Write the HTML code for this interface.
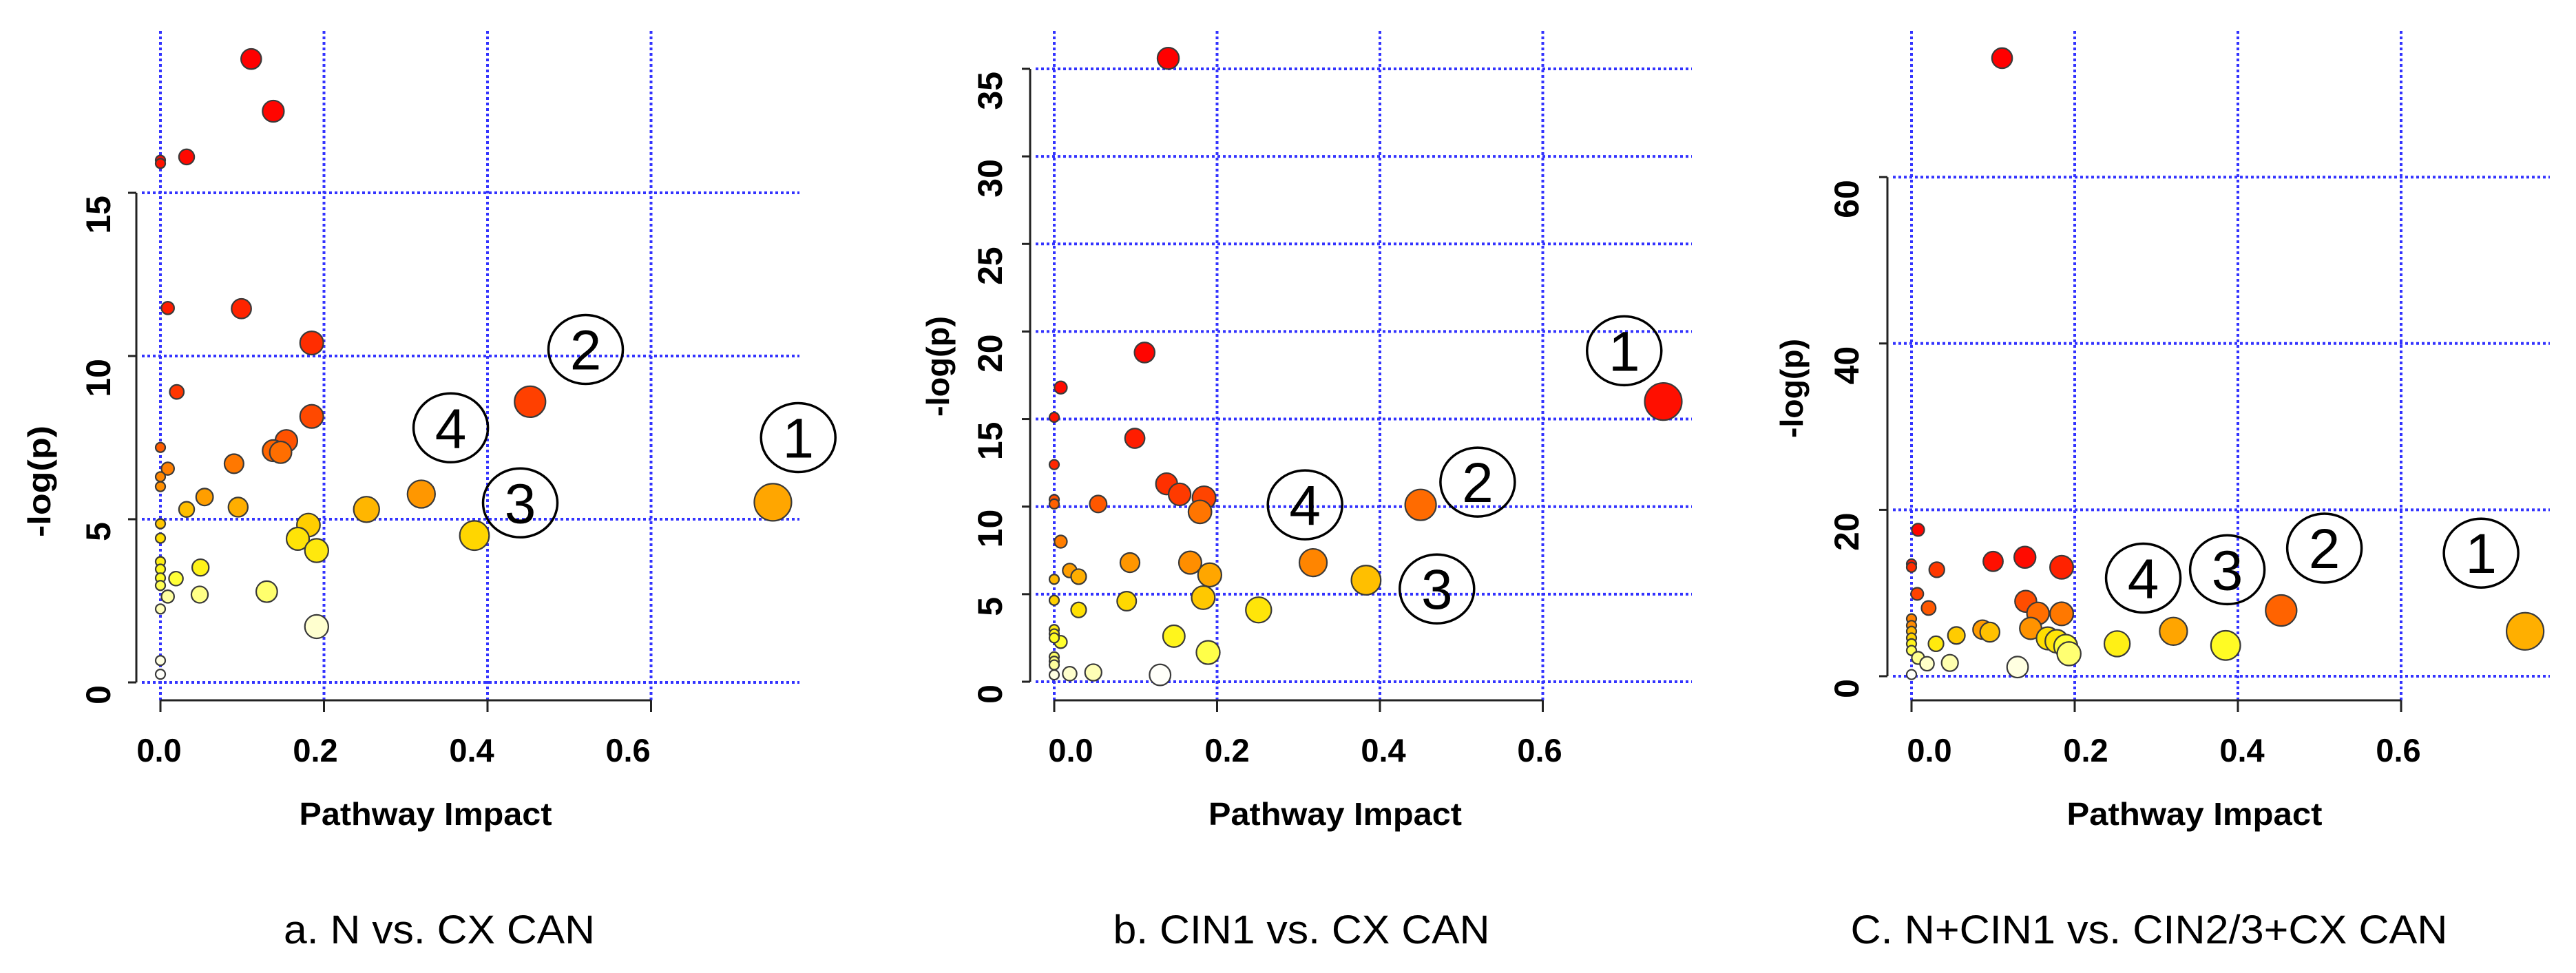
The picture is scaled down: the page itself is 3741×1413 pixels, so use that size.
<!DOCTYPE html>
<html><head><meta charset="utf-8"><style>
html,body{margin:0;padding:0;background:#fff;}
svg{display:block;}
text{font-family:"Liberation Sans",Arial,sans-serif;}
</style></head><body>
<svg id="fig" width="3741" height="1413" viewBox="0 0 3741 1413" xmlns="http://www.w3.org/2000/svg"></svg>
<script>
// ---------- data ----------
const xTicks = [0, 0.2, 0.4, 0.6];
const xTickLabels = ["0.0", "0.2", "0.4", "0.6"];

const aYTicks = [0, 5, 10, 15];
const aImpact = [0.111,0.138,0.032,0,0,0.009,0.099,0.185,0.020,0.452,0.185,0,0.154,0.138,0.147,0.090,0.009,0,0,0.054,0.319,0.749,0.032,0.095,0.252,0.181,0,0,0.384,0.168,0.191,0,0,0,0,0.049,0.019,0.009,0.048,0.130,0,0.191,0,0];
const aLogP   = [19.1,17.5,16.1,16.0,15.9,11.47,11.45,10.4,8.9,8.6,8.15,7.2,7.4,7.1,7.05,6.7,6.55,6.3,6.0,5.68,5.77,5.52,5.3,5.37,5.3,4.82,4.86,4.42,4.5,4.4,4.04,3.7,3.47,3.2,2.97,3.52,3.18,2.63,2.69,2.78,2.25,1.71,0.67,0.25];

const bYTicks = [0, 5, 10, 15, 20, 25, 30, 35];
const bImpact = [0.140,0.111,0.008,0.748,0,0.099,0,0.138,0.154,0.184,0.179,0.45,0,0,0.054,0.008,0.093,0.167,0.318,0.019,0.030,0.191,0.383,0,0.183,0.089,0,0.251,0.030,0,0,0.008,0.147,0,0.189,0,0,0,0.019,0.048,0.130,0];
const bLogP   = [35.6,18.8,16.8,16.0,15.1,13.9,12.4,11.3,10.7,10.5,9.7,10.1,10.4,10.15,10.15,8.0,6.8,6.8,6.8,6.35,6.0,6.1,5.8,5.85,4.8,4.6,4.65,4.1,4.1,2.98,2.73,2.27,2.6,2.5,1.67,1.42,1.17,0.96,0.46,0.53,0.39,0.39];

const cYTicks = [0, 20, 40, 60];
const cImpact = [0.111,0.008,0.139,0.100,0,0,0.184,0.031,0.007,0.140,0.453,0.155,0.184,0.021,0,0,0,0,0,0,0.752,0.321,0.146,0.087,0.096,0.055,0.167,0.178,0.189,0.193,0.252,0.385,0.030,0.008,0.019,0.047,0.130,0];
const cLogP   = [74.3,17.6,14.3,13.8,13.5,13.1,13.1,12.8,9.9,9.0,7.9,7.55,7.5,8.2,6.9,6.1,5.4,4.6,3.9,3.1,5.4,5.4,5.75,5.6,5.3,4.9,4.55,4.2,3.6,2.7,3.9,3.7,3.9,2.2,1.5,1.6,1.1,0.2];

const aLabels = ["1","2","3","4"];
const aLabelX = [0.78, 0.52, 0.44, 0.355];
const aLabelY = [7.5, 10.2, 5.5, 7.8];
const bLabelX = [0.70, 0.52, 0.47, 0.308];
const bLabelY = [18.9, 11.4, 5.3, 10.1];
const cLabelX = [0.698, 0.506, 0.387, 0.284];
const cLabelY = [14.8, 15.4, 12.8, 11.8];

// ---------- layout ----------
const panels = [
  {id:"a", impact:aImpact, logp:aLogP, yTicks:aYTicks, yMax:20, labX:aLabelX, labY:aLabelY,
   x0:233, xPer:1187.5, y0:991, yPer:47.4, yAxisX:198, yLabX:143, tlOff:-2, ylabX:57, ylabY:699, ylabLen:162,
   gridR:1161, pwX:618, pwLen:367, capX:638, capLen:452, caption:"a. N vs. CX CAN"},
  {id:"b", impact:bImpact, logp:bLogP, yTicks:bYTicks, yMax:35, labX:bLabelX, labY:bLabelY,
   x0:1531, xPer:1182.5, y0:990, yPer:25.43, yAxisX:1496, yLabX:1438, tlOff:24, ylabX:1362, ylabY:532, ylabLen:146,
   gridR:2457, pwX:1939, pwLen:368, capX:1890, capLen:547, caption:"b. CIN1 vs. CX CAN"},
  {id:"c", impact:cImpact, logp:cLogP, yTicks:cYTicks, yMax:60, labX:cLabelX, labY:cLabelY,
   x0:2776, xPer:1185, y0:982, yPer:12.08, yAxisX:2741, yLabX:2682, tlOff:26, ylabX:2602, ylabY:564, ylabLen:144,
   gridR:3703, pwX:3187, pwLen:371, capX:3121, capLen:867, caption:"C. N+CIN1 vs. CIN2/3+CX CAN"}
];

const NS = "http://www.w3.org/2000/svg";
const svg = document.getElementById("fig");
function mk(tag, attrs, parent){
  const e = document.createElementNS(NS, tag);
  for (const k in attrs) e.setAttribute(k, attrs[k]);
  (parent||svg).appendChild(e);
  return e;
}
const stops = [[0,[255,255,250]],[0.08,[255,255,176]],[0.2,[255,255,40]],[0.35,[255,222,0]],[0.5,[255,170,0]],[0.65,[255,120,0]],[0.8,[255,60,0]],[0.9,[255,20,0]],[1,[255,0,0]]];
function heat(t){
  for (let i=1;i<stops.length;i++){
    if (t<=stops[i][0]){
      const a=stops[i-1], b=stops[i], f=(t-a[0])/(b[0]-a[0]);
      const c=a[1].map((v,j)=>Math.round(v+(b[1][j]-v)*f));
      return "rgb("+c.join(",")+")";
    }
  }
  return "rgb(255,0,0)";
}

panels.forEach(p=>{
  const g = mk("g", {});
  
  
  const xs = v => p.x0 + v*p.xPer;
  const ys = v => p.y0 - v*p.yPer;
  const top = 45, xAxisY = 1017;
  xTicks.forEach(v=>{
    const l = mk("line", {x1:xs(v), x2:xs(v), y1:top, y2:xAxisY, stroke:"#3333ff", "stroke-width":4, "stroke-dasharray":"4 4"}, g);
    
    
  });
  p.yTicks.forEach(v=>{
    const l = mk("line", {x1:p.yAxisX+8, x2:p.gridR, y1:ys(v), y2:ys(v), stroke:"#3333ff", "stroke-width":4, "stroke-dasharray":"4 4"}, g);
    
    
  });
  const ya = mk("line", {x1:p.yAxisX, x2:p.yAxisX, y1:ys(p.yTicks[0]), y2:ys(p.yTicks[p.yTicks.length-1]), stroke:"#222", "stroke-width":3}, g);
  
  
  p.yTicks.forEach(v=>{
    mk("line", {x1:p.yAxisX-12, x2:p.yAxisX, y1:ys(v), y2:ys(v), stroke:"#222", "stroke-width":3}, g);
    const t = mk("text", {x:p.yLabX, y:ys(v)+4, transform:"rotate(-90 "+p.yLabX+" "+(ys(v)+4)+")", "text-anchor":"end", "font-size":50, "font-weight":"bold", "dominant-baseline":"central", fill:"#000"}, g);
    t.textContent = String(v);
    
    
  });
  const xa = mk("line", {x1:xs(0), x2:xs(0.6), y1:xAxisY, y2:xAxisY, stroke:"#222", "stroke-width":3}, g);
  
  
  xTicks.forEach((v,i)=>{
    mk("line", {x1:xs(v), x2:xs(v), y1:xAxisY, y2:xAxisY+17, stroke:"#222", "stroke-width":3}, g);
    const lx = xs(0) + p.tlOff + (v/0.2)*227;
    const t = mk("text", {x:lx, y:1106, "text-anchor":"middle", "font-size":47, "font-weight":"bold", fill:"#000"}, g);
    t.textContent = xTickLabels[i];
    
    
  });
  const xt = mk("text", {x:p.pwX, y:1198, "text-anchor":"middle", "font-size":46, "font-weight":"bold", textLength:p.pwLen, lengthAdjust:"spacingAndGlyphs", fill:"#000"}, g);
  xt.textContent = "Pathway Impact";
  
  
  const yt = mk("text", {x:p.ylabX, y:p.ylabY, transform:"rotate(-90 "+p.ylabX+" "+p.ylabY+")", "text-anchor":"middle", "dominant-baseline":"central", "font-size":46, "font-weight":"bold", textLength:p.ylabLen, lengthAdjust:"spacingAndGlyphs", fill:"#000"}, g);
  yt.textContent = "-log(p)";
  
  
  const n = p.logp.length;
  const order = p.logp.map((v,i)=>i).sort((a,b)=>p.logp[a]-p.logp[b]);
  const rank = new Array(n);
  order.forEach((idx,r)=>rank[idx]=r/(n-1));
  for (let i=0;i<n;i++){
    const r = 7 + 20*Math.sqrt(p.impact[i]/0.75);
    const c = mk("circle", {cx:xs(p.impact[i]), cy:ys(p.logp[i]), r:r, fill:heat(rank[i]), stroke:"#3a3a3a", "stroke-width":2.2}, g);
    
    
  }
  aLabels.forEach((s,i)=>{
    const cx = xs(p.labX[i]), cy = ys(p.labY[i]);
    const e = mk("ellipse", {cx:cx, cy:cy, rx:54, ry:50, fill:"none", stroke:"#000", "stroke-width":3.5}, g);
    
    
    const t = mk("text", {x:cx, y:cy+29, "text-anchor":"middle", "font-size":82, fill:"#000"}, g);
    t.textContent = s;
    
    
  });
  const cap = mk("text", {x:p.capX, y:1370, "text-anchor":"middle", "font-size":58, textLength:p.capLen, lengthAdjust:"spacingAndGlyphs", fill:"#000"}, g);
  cap.textContent = p.caption;
  
  
});
</script>
</body></html>
